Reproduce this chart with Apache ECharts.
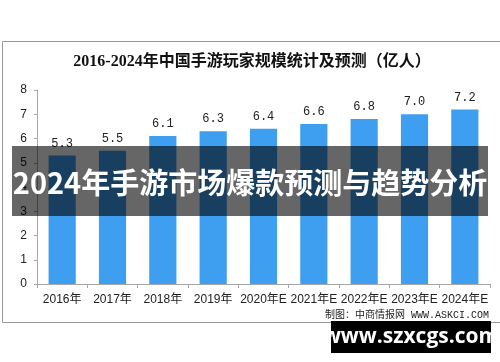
<!DOCTYPE html>
<html><head><meta charset="utf-8">
<script src="https://cdn.jsdelivr.net/npm/echarts@6/dist/echarts.min.js"></script>
<style>html,body{margin:0;padding:0;background:#fff}#c{width:500px;height:362px}</style>
</head><body><div id="c"></div>
<script>
var categories = ['2016年','2017年','2018年','2019年','2020年E','2021年E','2022年E','2023年E','2024年E'];
var values = [5.3, 5.5, 6.1, 6.3, 6.4, 6.6, 6.8, 7.0, 7.2];
var yTicks = [0,1,2,3,4,5,6,7,8];
var titleText = '2016-2024年中国手游玩家规模统计及预测（亿人）';
var sourceText = '制图：中商情报网 WWW.ASKCI.COM';
var bannerText = '2024年手游市场爆款预测与趋势分析';
var siteText = 'www.szxcgs.com';

var chart = echarts.init(document.getElementById('c'), null, {renderer:'canvas'});
chart.setOption({
  backgroundColor:'#fff',
  animation:false,
  title:{text:titleText, left:247, top:49, textAlign:'center',
    textStyle:{fontFamily:'"Liberation Serif","Noto Sans CJK SC"', fontSize:16, fontWeight:'bold', color:'#111'}},
  grid:{left:37, right:10, top:90, bottom:78},
  xAxis:{type:'category', data:categories,
    axisLine:{lineStyle:{color:'#a6a6a6'}},
    axisTick:{show:true, length:4, lineStyle:{color:'#a6a6a6'}},
    axisLabel:{interval:0, color:'#222', fontSize:12, margin:10, fontFamily:'"Liberation Sans","Noto Sans CJK SC"'}},
  yAxis:{type:'value', min:yTicks[0], max:yTicks[yTicks.length-1], interval:1,
    axisLine:{show:true, lineStyle:{color:'#a6a6a6'}},
    axisTick:{show:true, length:3, lineStyle:{color:'#a6a6a6'}},
    splitLine:{show:false},
    axisLabel:{color:'#222', fontSize:12, margin:10, fontFamily:'"Liberation Sans"'}},
  series:[{type:'bar', data:values, barWidth:'54%',
    itemStyle:{color:'#3e9ff0'},
    label:{show:true, position:'top', distance:6, color:'#222', fontSize:12,
      fontFamily:'"Liberation Mono"',
      formatter:function(p){return p.value.toFixed(1);}}}],
  graphic:[
    {type:'rect', left:0, top:39, shape:{width:499, height:281}, style:{fill:'none', stroke:'#9a9a9a', lineWidth:1}, z:-1, silent:true},
    {type:'text', right:11, top:310, style:{text:sourceText, fill:'#222', font:'10px "Liberation Mono","Noto Sans CJK SC"'}},
    {type:'rect', left:12, top:146, shape:{width:476, height:70}, style:{fill:'rgba(0,0,0,0.6)'}, z:100},
    {type:'text', x:250, y:183, z:101, style:{text:bannerText, fill:'#fff', textAlign:'center', textVerticalAlign:'middle',
      font:'bold 29px "Noto Sans CJK SC"'}},
    {type:'rect', left:331, top:321, shape:{width:160, height:32}, style:{fill:'#000'}, z:100},
    {type:'text', x:411, y:337, z:101, style:{text:siteText, fill:'#fff', textAlign:'center', textVerticalAlign:'middle',
      font:'bold 21px "Open Sans","DejaVu Sans"'}}
  ]
});
</script></body></html>
